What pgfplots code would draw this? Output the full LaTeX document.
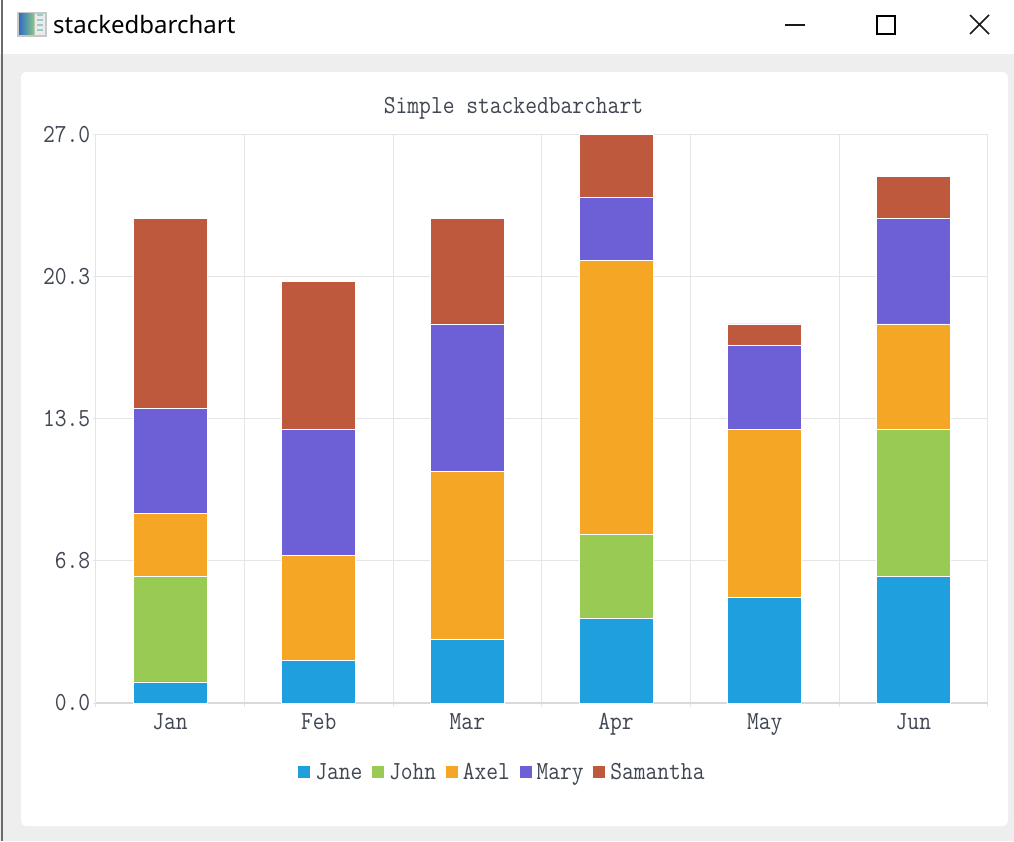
\documentclass[border=0pt]{standalone}
\usepackage{fontspec}
\usepackage{pgfplots}
\pgfplotsset{compat=1.18}
\setsansfont{Noto Sans}
\newfontfamily\chartface[FakeStretch=0.88]{Latin Modern Mono}
\definecolor{cJane}{HTML}{209FDF}
\definecolor{cJohn}{HTML}{99CA53}
\definecolor{cAxel}{HTML}{F6A625}
\definecolor{cMary}{HTML}{6D5FD5}
\definecolor{cSam}{HTML}{BF593E}
\definecolor{gridc}{HTML}{E5E5E5}
\definecolor{txt}{HTML}{404652}
\newcommand{\chartfont}{\chartface\fontsize{26}{27}\selectfont}
\pgfplotstableread{
x Jane John Axel Mary Samantha
0 1 5 3 5 9
1 2 0 5 6 7
2 3 0 8 7 5
3 4 4 13 3 3
4 5 0 8 4 1
5 6 7 5 5 2
}\datatable
\pgfplotsset{
  sbar/.style={fill=#1, draw=white, line width=0.8pt,
    legend image code/.code={\fill[#1,draw=none] (0pt,-6pt) rectangle (12pt,6pt);}},
}
\begin{document}
\begin{tikzpicture}[x=1pt,y=1pt]
\useasboundingbox (0,0) rectangle (1014,841);
% window chrome
\fill[white] (0,0) rectangle (1014,841);
\fill[black!6.5] (0,0) rectangle (1014,787);
\fill[white,rounded corners=5pt] (21,15) rectangle (1008,769);
\fill[black!58] (0.5,0) rectangle (3,841);
% icon
\fill[black!22] (17,804) rectangle (47,829);
\shade[left color=teal!55!blue!80!white, right color=green!40!gray!70!white] (19,806) rectangle (34,827);
\fill[black!8] (35,806) rectangle (45,827);
\foreach \yy in {810,815,820,825} \fill[teal!40] (37,\yy) rectangle (43,\yy+2);
\node[anchor=west,inner sep=0pt,font=\sffamily\fontsize{24}{27}\selectfont] at (53,816) {stackedbarchart};
% window buttons
\draw[line width=1.5pt,black!90] (785,816) -- (805,816);
\draw[line width=2pt,black] (877,807) rectangle (895,825);
\draw[line width=1.5pt,black!90] (970,807) -- (989,826) (970,826) -- (989,807);
\node[inner sep=0pt,text=txt,font=\chartfont] at (513.5,732.5) {Simple stackedbarchart};
\begin{axis}[
  at={(95.7pt,138pt)}, anchor=south west,
  scale only axis, width=892pt, height=568.5pt,
  ybar stacked, bar width=74pt,
  xmin=-0.5, xmax=5.5, ymin=0, ymax=27,
  axis line style={draw=gridc, line width=1pt},
  xtick={0,1,2,3,4,5},
  xticklabels={Jan,Feb,Mar,Apr,May,Jun},
  minor xtick={-0.5,0.5,1.5,2.5,3.5,4.5,5.5},
  ytick={0,6.75,13.5,20.25,27},
  yticklabels={0.0,6.8,13.5,20.3,27.0},
  xmajorgrids=false, xminorgrids=true, ymajorgrids=true,
  grid style={draw=gridc, line width=1pt},
  minor grid style={draw=gridc, line width=1pt},
  major x tick style={draw=none},
  minor x tick style={draw=gridc, line width=1pt},
  minor tick length=4pt,
  major y tick style={draw=gridc, line width=1pt},
  tick align=outside, xtick pos=bottom, ytick pos=left, major tick length=3pt,
  tick label style={font=\chartfont, text=txt},
  xticklabel style={yshift=-4pt},
  yticklabel style={xshift=1pt},
  legend columns=5,
  legend style={at={(rel axis cs:0.4560,-0.1215)}, anchor=center, draw=none, fill=none,
    font=\chartfont, text=txt, inner sep=0pt,
    /tikz/every even column/.append style={column sep=7.6pt},
    /tikz/every odd column/.append style={column sep=3pt}},
  legend cell align=left,
  clip=false,
]
\addplot[sbar=cJane] table[x=x,y=Jane] {\datatable};
\addplot[sbar=cJohn] table[x=x,y=John] {\datatable};
\addplot[sbar=cAxel] table[x=x,y=Axel] {\datatable};
\addplot[sbar=cMary] table[x=x,y=Mary] {\datatable};
\addplot[sbar=cSam] table[x=x,y=Samantha] {\datatable};
\legend{Jane,John,Axel,Mary,Samantha}
\draw[draw=black!15,line width=1.5pt] (rel axis cs:0,0) -- (rel axis cs:1,0);
\end{axis}
\end{tikzpicture}
\end{document}
